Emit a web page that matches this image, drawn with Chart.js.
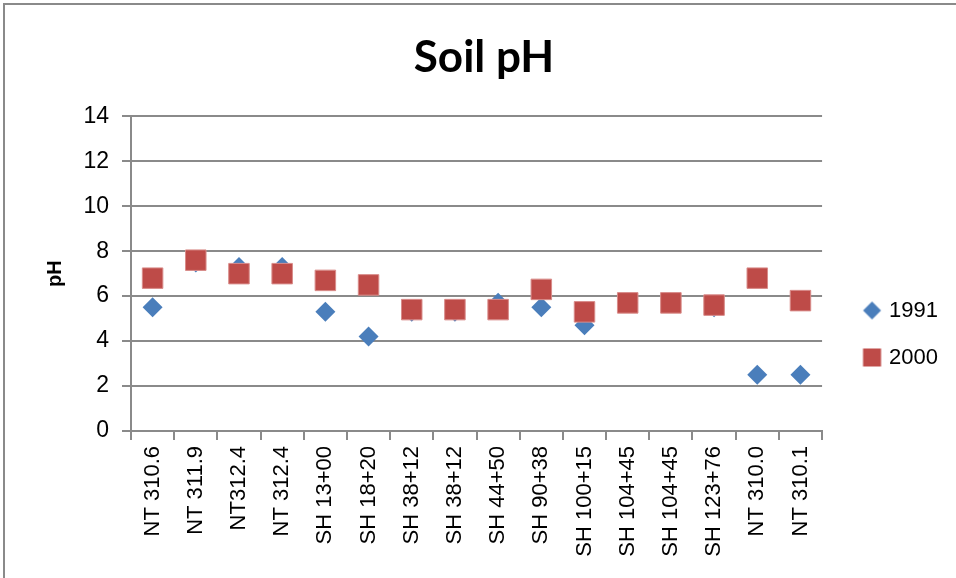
<!DOCTYPE html>
<html>
<head>
<meta charset="utf-8">
<script src="https://cdn.jsdelivr.net/npm/chart.js@4.4.1/dist/chart.umd.min.js"></script>
<style>
  html, body { margin: 0; padding: 0; background: #fff; overflow: hidden; }
  #wrap { position: relative; width: 956px; height: 578px; overflow: hidden; }
  #frame { position: absolute; left: 3px; top: 3px; width: 1100px; height: 800px; border: 2px solid #8a8a8a; box-sizing: border-box; }
  canvas { position: absolute; left: 0; top: 0; }
</style>
</head>
<body>
<div id="wrap">
  <div id="frame"></div>
  <canvas id="c" width="956" height="578"></canvas>
</div>
<script>
const categories = ["NT 310.6", "NT 311.9", "NT312.4", "NT 312.4", "SH 13+00", "SH 18+20", "SH 38+12", "SH 38+12", "SH 44+50", "SH 90+38", "SH 100+15", "SH 104+45", "SH 104+45", "SH 123+76", "NT 310.0", "NT 310.1"];
const ph1991 = [5.5, 7.5, 7.3, 7.3, 5.3, 4.2, 5.3, 5.3, 5.7, 5.5, 4.7, 5.7, 5.7, 5.5, 2.5, 2.5];
const ph2000 = [6.8, 7.6, 7.0, 7.0, 6.7, 6.5, 5.4, 5.4, 5.4, 6.3, 5.3, 5.7, 5.7, 5.6, 6.8, 5.8];
const yTicks = [0, 2, 4, 6, 8, 10, 12, 14];
const seriesNames = ["1991", "2000"];

const BLUE = '#4a7ebb';
const RED = '#be4b48';
const FONT = "'Liberation Sans', Arial, sans-serif";

// legend icons (icon drawn right of the image centre)
function makeIcon(kind, color) {
  const w = 60, h = 20, cx = 30 + 14.5, cy = 10;
  const cv = document.createElement('canvas');
  cv.width = w; cv.height = h;
  const g = cv.getContext('2d');
  g.fillStyle = color;
  if (kind === 'diamond') {
    g.beginPath();
    g.moveTo(cx, cy - 9); g.lineTo(cx + 9, cy); g.lineTo(cx, cy + 9); g.lineTo(cx - 9, cy); g.closePath(); g.fill();
  } else {
    g.fillRect(cx - 9, cy - 9, 18, 18);
  }
  return cv;
}
const icons = [makeIcon('diamond', BLUE), makeIcon('square', RED)];

const LEFT = 131, BOTTOM = 431;
const PAD_LEFT = 30, PAD_RIGHT = 18;

new Chart(document.getElementById('c'), {
  type: 'line',
  data: {
    labels: categories,
    datasets: [
      { label: seriesNames[0], data: ph1991, showLine: false, pointStyle: 'rectRot', pointRadius: 10, pointHoverRadius: 10,
        backgroundColor: BLUE, borderColor: BLUE, borderWidth: 0, order: 2 },
      { label: seriesNames[1], data: ph2000, showLine: false, pointStyle: 'rect', pointRadius: 14.5, pointHoverRadius: 14.5,
        backgroundColor: RED, borderColor: '#d98c8a', borderWidth: 1, order: 1 }
    ]
  },
  options: {
    responsive: false,
    animation: false,
    events: [],
    layout: { padding: { left: PAD_LEFT, right: PAD_RIGHT, top: 0, bottom: 0 } },
    plugins: {
      title: {
        display: true, text: 'Soil pH', color: '#000',
        font: { family: 'Lato', weight: 'bold', size: 44 },
        padding: { top: 31, bottom: 32.5 }
      },
      legend: {
        position: 'right',
        title: { display: true, text: ' ', font: { size: 10 }, padding: { top: 78, bottom: 0 } },
        labels: {
          color: '#000',
          font: { family: FONT, size: 22 },
          usePointStyle: true,
          pointStyleWidth: 21,
          boxHeight: 20,
          padding: 25,
          textAlign: 'right',
          generateLabels: (chart) => chart.data.datasets.map((ds, i) => ({
            text: ds.label, datasetIndex: i, pointStyle: icons[i],
            fillStyle: ds.backgroundColor, strokeStyle: ds.backgroundColor, lineWidth: 0, hidden: false, fontColor: '#000'
          }))
        }
      },
      tooltip: { enabled: false }
    },
    scales: {
      x: {
        offset: true,
        grid: { display: true, drawOnChartArea: false, drawTicks: true, offset: true, tickLength: 9, color: '#8a8a8a', lineWidth: 2 },
        border: { display: true, color: '#8a8a8a', width: 2 },
        ticks: { color: '#000', font: { family: FONT, size: 22 }, maxRotation: 90, minRotation: 90, padding: 6, autoSkip: false },
        afterFit: (s) => { s.height = 578 - BOTTOM; }
      },
      y: {
        min: 0, max: 14,
        afterBuildTicks: (s) => { s.ticks = yTicks.map(v => ({ value: v })); },
        grid: { color: '#8a8a8a', lineWidth: 2, tickLength: 9 },
        border: { display: true, color: '#8a8a8a', width: 2 },
        ticks: { color: '#000', font: { family: FONT, size: 23 }, padding: 13 },
        title: { display: true, text: 'pH', color: '#000', font: { family: FONT, weight: 'bold', size: 20 }, padding: { top: 13.5, bottom: 0 } },
        afterFit: (s) => { s.width = LEFT - PAD_LEFT; }
      }
    }
  }
});
</script>
</body>
</html>
